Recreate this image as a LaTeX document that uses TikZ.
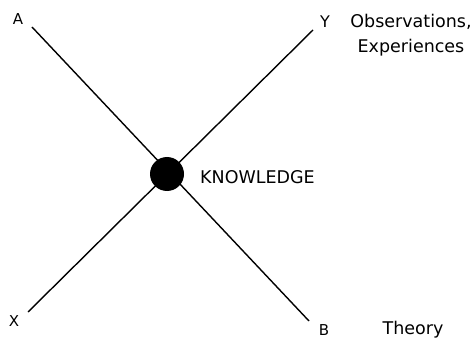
\documentclass[tikz,border=0pt]{standalone}
\usepackage{fontspec}
\setmainfont{DejaVu Sans}
\usetikzlibrary{positioning}

\begin{document}
\begin{tikzpicture}[
  x=1pt, y=-1pt,
  axisline/.style={line width=1.4pt, black},
  corner/.style={font=\fontsize{15}{17}\selectfont, inner sep=0pt},
  label/.style={font=\fontsize{17.5}{25}\selectfont, inner sep=0pt, align=center},
  core/.style={circle, fill=black, minimum size=34pt, inner sep=0pt},
]
  \useasboundingbox (0,0) rectangle (476,339);

  % Line ends
  \coordinate (aend) at (32,27);
  \coordinate (bend) at (309,321);
  \coordinate (xend) at (28,312);
  \coordinate (yend) at (313,30);

  % Crossing lines
  \draw[axisline] (aend) -- (bend);
  \draw[axisline] (xend) -- (yend);

  % Knowledge
  \node[core] (know) at (167,174) {};
  \node[label, anchor=west] (knowtext) at (200,177) {KNOWLEDGE};

  % End labels
  \node[corner] (alabel) at (18,19) {A};
  \node[corner, font=\fontsize{16}{18}\selectfont] (ylabel) at (325,22) {Y};
  \node[corner] (xlabel) at (14,321) {X};
  \node[corner] (blabel) at (324,330) {B};

  % Descriptions
  \node[label] (obs) at (411,35) {Observations,\\Experiences};
  \node[label] (theory) at (413,330) {Theory};
\end{tikzpicture}
\end{document}
